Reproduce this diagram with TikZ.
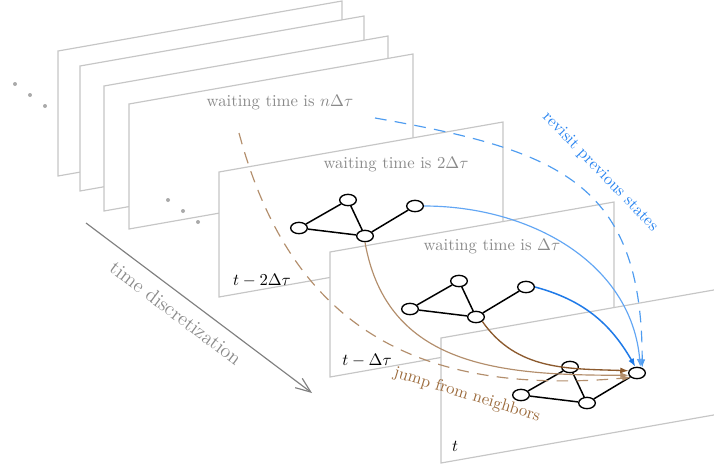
\documentclass[tikz,border=0pt]{standalone}
\usepackage{amsmath, amssymb}
\usepackage{xcolor}
\usetikzlibrary{positioning, arrows.meta, shapes.geometric}

\definecolor{framegray}{HTML}{C6C6C6}
\definecolor{labelgray}{HTML}{8A8A8A}
\definecolor{dotgray}{HTML}{AAAAAA}
\definecolor{axisgray}{HTML}{808080}
\definecolor{revisitblue}{HTML}{2A85F0}
\definecolor{darkblue}{HTML}{1F7AE8}
\definecolor{lightblue}{HTML}{62A6F4}
\definecolor{dashblue}{HTML}{4E9CF0}
\definecolor{jumpbrown}{HTML}{8C5A2E}
\definecolor{lightbrown}{HTML}{B38E6C}
\definecolor{textbrown}{HTML}{9C6B3C}

% one time slice, given by its top left corner
\newcommand{\timeframe}[2]{%
  \filldraw[frame] (#1,#2) -- ++(284,50) -- ++(0,-125) -- ++(-284,-50) -- cycle;}

\begin{document}
\begin{tikzpicture}[
    x=0.6pt, y=0.6pt,
    font=\normalsize,
    >=Latex,
    frame/.style={draw=framegray, fill=white, line width=0.7pt},
    vtx/.style={
        ellipse,
        draw=black,
        fill=white,
        line width=0.8pt,
        inner sep=0pt,
        minimum width=10pt,
        minimum height=6.8pt
    },
    edge/.style={line width=0.9pt},
    dot/.style={circle, fill=dotgray, inner sep=0pt, minimum size=2.4pt},
    waitlabel/.style={text=labelgray},
    revisit/.style={-{Latex[length=5pt, width=3.6pt]}, line width=0.7pt},
    jump/.style={-{Latex[length=5pt, width=3.6pt]}, line width=0.7pt},
    tdarrow/.style={-{Straight Barb[length=9pt, width=7pt]}, draw=axisgray, line width=0.7pt}
]
\useasboundingbox (0,0) rectangle (714,467);
\clip (0,0) rectangle (714,467);

% slices far in the past
\node[dot] (p1) at (15,383) {};
\node[dot] (p2) at (30,372) {};
\node[dot] (p3) at (45,361) {};
\timeframe{58}{416}
\timeframe{80}{401}
\timeframe{104}{381}
\timeframe{129}{363}
\node[waitlabel] (waitn) at (280,364) {waiting time is $n\Delta\tau$};
\node[dot] (q1) at (168,267) {};
\node[dot] (q2) at (183,256) {};
\node[dot] (q3) at (198,245) {};

% recent slices
\timeframe{219}{295}
\node[waitlabel] (wait2) at (396,302) {waiting time is $2\Delta\tau$};
\node (time2) at (262,187) {$t-2\Delta\tau$};
\timeframe{330}{215}
\node[waitlabel] (wait1) at (492,220) {waiting time is $\Delta\tau$};
\node (time1) at (367,107) {$t-\Delta\tau$};
\timeframe{441}{129}
\node (time0) at (455,21) {$t$};

% the graph in each slice
\foreach \g/\gx/\gy in {2/299/239, 1/410/158, 0/521/72} {
  \begin{scope}[shift={(\gx,\gy)}]
    \node[vtx] (a\g) at (0,0) {};
    \node[vtx] (b\g) at (49,28) {};
    \node[vtx] (c\g) at (66,-8) {};
    \node[vtx] (d\g) at (116,22) {};
    \draw[edge] (a\g) -- (b\g) -- (c\g) -- (a\g);
    \draw[edge] (c\g) -- (d\g);
  \end{scope}
}

% time axis
\coordinate (tdstart) at (86,244);
\coordinate (tdend) at (312,74);
\draw[tdarrow] (tdstart) -- (tdend);
\node[text=labelgray, font=\large, rotate=-37] (tdlabel) at (176,154) {time discretization};

% revisiting
\coordinate (revstart) at (375,349);
\draw[revisit, dashblue, dash pattern=on 7pt off 5pt] (revstart) to[out=-10, in=90, looseness=1.3] (d0.45);
\draw[revisit, lightblue] (d2.east) to[out=0, in=95] (d0.60);
\draw[revisit, darkblue, line width=0.9pt] (d1.east) to[out=-15, in=120] (d0.105);
\node[text=revisitblue, rotate=-46] (revlabel) at (600,295) {revisit previous states};

% jumping
\coordinate (jumpstart) at (239,334);
\draw[jump, lightbrown, dash pattern=on 7pt off 5pt] (jumpstart) to[out=-75, in=185, looseness=1.15] (d0.215);
\draw[jump, lightbrown] (c2.south) to[out=-80, in=180, looseness=1.1] (d0.195);
\draw[jump, jumpbrown, line width=0.8pt] (c1.south east) to[out=-55, in=178] (d0.165);
\node[text=textbrown, rotate=-17] (jumplabel) at (467,72) {jump from neighbors};

\end{tikzpicture}
\end{document}
